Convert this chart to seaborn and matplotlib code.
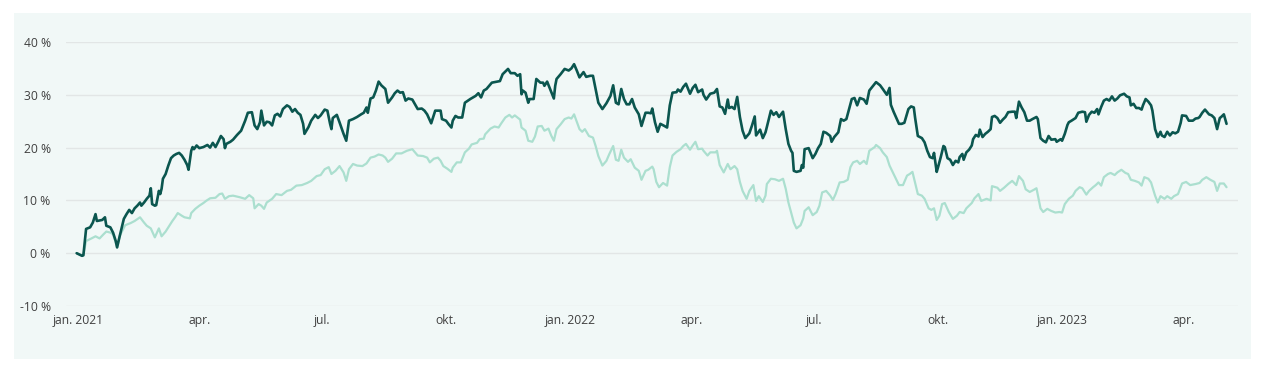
import numpy as np
import pandas as pd
import matplotlib
matplotlib.use("Agg")
import matplotlib.pyplot as plt
import matplotlib.dates as mdates
from matplotlib.ticker import FuncFormatter, FixedLocator
from matplotlib.patches import Rectangle
import seaborn as sns

# ---------------- data (days since 2021-01-01, return in %) ----------------
start_date = "2021-01-01"

dark_days = [-1, 3, 4, 6, 9, 11, 13, 14, 18, 20, 21, 24, 26, 28, 29, 31, 34, 36, 38, 40,
             42, 44, 46, 47, 49, 51, 53, 54, 55, 57, 58, 60, 61, 62, 63, 65, 67, 69, 71, 73,
             75, 77, 79, 81, 82, 84, 85, 86, 88, 90, 93, 96, 98, 100, 102, 104, 106, 108, 109, 110,
             113, 115, 118, 121, 124, 126, 129, 131, 133, 135, 136, 138, 140, 142, 144, 146, 148, 150, 152, 155,
             157, 159, 161, 163, 165, 167, 168, 171, 173, 176, 178, 180, 183, 185, 187, 188, 189, 192, 194, 197,
             199, 201, 204, 207, 210, 212, 214, 215, 217, 219, 221, 223, 225, 228, 230, 233, 235, 237, 239, 241,
             243, 245, 248, 250, 252, 255, 257, 259, 262, 265, 269, 270, 273, 275, 277, 278, 280, 282, 285, 287,
             291, 295, 297, 299, 301, 303, 307, 311, 313, 315, 317, 319, 321, 324, 326, 328, 329, 330, 332, 334,
             335, 338, 340, 343, 345, 346, 348, 350, 353, 354, 355, 358, 361, 364, 366, 368, 370, 372, 375, 377,
             380, 382, 384, 386, 389, 392, 395, 397, 399, 401, 403, 405, 407, 409, 411, 413, 416, 418, 421, 423,
             425, 426, 428, 430, 432, 435, 437, 439, 441, 444, 445, 447, 449, 451, 454, 456, 458, 460, 463, 464,
             466, 469, 472, 474, 476, 478, 480, 482, 483, 485, 487, 489, 491, 493, 495, 498, 500, 502, 503, 506,
             508, 510, 511, 514, 516, 518, 520, 523, 525, 527, 529, 530, 531, 533, 536, 537, 538, 539, 542, 545,
             547, 549, 551, 553, 555, 558, 559, 561, 564, 566, 568, 570, 572, 574, 576, 578, 580, 583, 585, 587,
             591, 592, 595, 597, 600, 602, 603, 605, 609, 611, 613, 616, 618, 620, 621, 623, 626, 628, 630, 632,
             634, 635, 637, 638, 640, 642, 643, 645, 647, 649, 651, 653, 654, 656, 657, 659, 661, 663, 664, 666,
             668, 669, 671, 673, 675, 677, 678, 680, 682, 684, 686, 688, 690, 693, 695, 696, 698, 700, 702, 704,
             706, 708, 711, 712, 714, 716, 718, 720, 722, 725, 726, 729, 730, 732, 734, 735, 737, 740, 742, 745,
             747, 748, 750, 752, 754, 756, 757, 759, 761, 763, 765, 767, 769, 771, 773, 776, 778, 780, 781, 783,
             785, 787, 789, 790, 792, 794, 796, 797, 799, 801, 803, 804, 806, 808, 810, 812, 814, 816, 818, 819,
             822, 824, 827, 829, 831, 832, 834, 836, 839, 841, 843, 845, 847, 848, 850, 852]
dark_vals = [0.0, -0.5, -0.4, 4.6, 4.9, 5.8, 7.4, 6.1, 6.3, 6.8, 5.2, 4.9, 3.9, 2.3, 1.1, 3.3, 6.5, 7.4, 8.2, 7.6,
             8.5, 9.0, 9.6, 9.0, 9.6, 10.3, 10.9, 12.3, 9.3, 9.0, 9.1, 11.8, 11.2, 12.2, 14.1, 15.0, 16.6, 18.0, 18.5, 18.8,
             19.0, 18.5, 17.7, 16.7, 15.8, 19.4, 20.1, 19.7, 20.4, 19.9, 20.1, 20.5, 20.0, 20.9, 20.1, 21.1, 22.2, 21.6, 19.9, 20.7,
             21.1, 21.5, 22.4, 23.2, 25.1, 26.6, 26.7, 24.2, 23.5, 24.8, 27.0, 24.2, 24.9, 24.8, 24.2, 26.1, 26.4, 25.9, 27.3, 28.0,
             27.7, 26.8, 27.3, 26.6, 26.2, 24.5, 22.6, 23.9, 25.1, 26.2, 25.6, 26.1, 27.2, 27.0, 24.5, 23.5, 25.6, 26.2, 24.8, 22.6,
             21.3, 25.1, 25.4, 25.8, 26.3, 26.6, 27.6, 26.6, 29.3, 29.5, 30.8, 32.5, 31.8, 31.1, 28.5, 29.5, 30.3, 30.8, 30.4, 30.5,
             28.9, 29.3, 29.1, 28.2, 27.3, 27.4, 27.0, 26.3, 24.6, 27.0, 27.0, 25.4, 25.1, 24.4, 23.8, 25.1, 26.0, 25.7, 25.7, 28.5,
             29.2, 29.8, 30.3, 29.5, 30.8, 31.1, 32.3, 32.5, 32.6, 33.9, 34.4, 34.9, 34.1, 34.1, 33.6, 33.9, 30.1, 30.8, 30.4, 28.5,
             29.2, 29.2, 33.0, 32.3, 32.3, 31.7, 32.5, 31.2, 29.3, 31.7, 33.0, 33.9, 34.9, 34.6, 35.0, 35.8, 34.6, 33.3, 34.3, 33.4,
             33.6, 33.6, 31.1, 28.5, 27.3, 28.4, 29.8, 31.8, 28.5, 28.2, 31.1, 29.2, 28.2, 28.2, 29.2, 27.6, 26.3, 24.1, 26.6, 26.6,
             26.5, 27.4, 24.8, 23.0, 24.5, 24.1, 23.8, 28.0, 30.4, 30.5, 31.0, 30.6, 31.5, 32.1, 30.2, 31.3, 31.9, 30.5, 31.0, 30.0,
             29.1, 30.2, 30.4, 31.1, 27.8, 27.6, 26.4, 29.1, 27.5, 27.7, 27.3, 29.6, 25.8, 23.2, 21.8, 22.7, 24.2, 25.9, 22.3, 23.4,
             21.8, 22.9, 23.9, 27.0, 26.2, 26.7, 25.8, 26.8, 23.5, 20.7, 19.4, 19.0, 15.6, 15.4, 15.6, 16.7, 16.2, 19.7, 19.9, 18.0,
             18.8, 19.9, 20.7, 23.0, 22.8, 22.2, 21.1, 22.0, 22.9, 25.4, 25.1, 25.4, 27.3, 29.2, 29.4, 28.0, 29.4, 29.1, 28.3, 30.8,
             32.1, 32.4, 31.8, 31.1, 30.0, 31.3, 28.1, 26.8, 24.5, 24.5, 24.7, 27.3, 27.8, 27.6, 25.6, 22.2, 21.8, 21.0, 19.4, 18.2,
             18.0, 19.0, 15.4, 16.3, 18.2, 20.3, 20.1, 18.0, 17.7, 16.7, 17.5, 17.2, 18.2, 18.8, 17.7, 19.1, 19.6, 20.4, 21.6, 22.4,
             22.1, 23.4, 22.0, 22.6, 23.0, 23.5, 25.8, 26.0, 25.6, 24.7, 25.3, 25.8, 26.7, 26.8, 26.8, 25.6, 28.7, 27.6, 26.7, 25.1,
             25.1, 25.4, 25.8, 25.4, 21.8, 21.3, 21.0, 22.2, 21.5, 21.6, 21.1, 21.6, 21.3, 22.6, 24.3, 24.8, 25.1, 25.6, 26.6, 26.8,
             26.7, 24.9, 26.2, 26.8, 26.6, 27.3, 26.3, 27.7, 28.9, 29.2, 28.9, 29.7, 28.9, 29.3, 29.9, 30.2, 29.7, 29.5, 28.0, 28.3,
             27.5, 27.5, 27.2, 28.0, 29.2, 28.7, 28.0, 27.0, 23.5, 22.0, 23.0, 22.3, 22.0, 23.0, 22.3, 22.9, 22.7, 23.0, 24.7, 26.1,
             26.0, 25.1, 25.1, 25.5, 25.6, 25.8, 26.6, 27.2, 26.3, 26.1, 25.6, 23.5, 25.6, 25.8, 26.3, 24.5]

light_days = [-1, 3, 4, 6, 10, 13, 16, 19, 21, 24, 26, 28, 29, 31, 35, 39, 42, 46, 49, 51,
              54, 57, 60, 62, 65, 67, 70, 72, 74, 77, 79, 83, 84, 87, 90, 93, 95, 98, 102, 105,
              107, 109, 112, 115, 120, 124, 127, 130, 131, 134, 136, 138, 140, 144, 147, 151, 155, 158, 162, 166,
              170, 173, 177, 180, 183, 186, 188, 191, 194, 197, 199, 201, 204, 207, 211, 214, 217, 220, 223, 226,
              228, 230, 233, 236, 240, 244, 248, 250, 252, 256, 259, 261, 264, 267, 269, 271, 274, 277, 278, 281,
              284, 287, 290, 292, 296, 298, 301, 302, 306, 309, 312, 314, 317, 320, 322, 324, 326, 328, 329, 332,
              334, 337, 339, 341, 344, 346, 349, 351, 353, 355, 358, 361, 364, 366, 368, 370, 372, 374, 376, 379,
              382, 384, 386, 389, 392, 394, 397, 399, 401, 403, 405, 408, 410, 413, 416, 418, 421, 423, 426, 427,
              429, 431, 434, 437, 439, 441, 444, 447, 449, 451, 454, 456, 458, 460, 463, 464, 467, 469, 473, 474,
              476, 479, 482, 484, 487, 489, 491, 493, 496, 498, 501, 503, 505, 508, 510, 511, 514, 517, 520, 523,
              525, 527, 529, 531, 533, 536, 538, 539, 542, 545, 548, 550, 552, 555, 558, 560, 562, 565, 568, 571,
              573, 575, 578, 580, 583, 585, 587, 591, 592, 595, 597, 600, 602, 605, 609, 612, 615, 617, 619, 621,
              623, 626, 628, 631, 633, 635, 637, 639, 641, 643, 646, 649, 652, 654, 657, 659, 663, 665, 668, 670,
              674, 677, 678, 682, 684, 687, 690, 693, 696, 698, 701, 703, 706, 709, 711, 714, 716, 719, 722, 725,
              728, 730, 732, 735, 738, 740, 743, 745, 748, 750, 753, 755, 757, 759, 761, 764, 766, 769, 771, 774,
              777, 779, 781, 784, 787, 789, 791, 794, 796, 799, 801, 803, 806, 808, 811, 813, 816, 819, 822, 825,
              829, 832, 834, 837, 840, 843, 845, 847, 850, 852]
light_vals = [0.0, -0.4, -0.2, 2.3, 2.8, 3.2, 2.8, 3.6, 4.1, 3.9, 3.6, 2.0, 1.1, 3.3, 5.3, 5.7, 6.1, 6.8, 5.8, 5.2,
              4.7, 3.0, 4.7, 3.2, 4.1, 4.9, 6.1, 6.8, 7.6, 7.1, 6.8, 6.6, 7.6, 8.4, 9.0, 9.5, 9.9, 10.4, 10.5, 11.2,
              11.3, 10.3, 10.8, 10.9, 10.6, 10.3, 11.0, 10.4, 8.5, 9.3, 9.0, 8.4, 9.6, 10.3, 11.2, 11.0, 11.8, 12.0, 12.8, 12.9,
              13.3, 13.7, 14.6, 14.8, 15.9, 16.3, 15.0, 15.6, 16.5, 15.3, 13.7, 15.9, 16.9, 16.6, 16.5, 17.0, 18.1, 18.3, 18.7, 18.5,
              18.1, 17.3, 17.9, 18.9, 18.9, 19.4, 19.7, 19.1, 18.5, 18.4, 18.1, 17.2, 17.9, 18.1, 17.5, 16.5, 16.0, 15.4, 16.2, 17.2,
              17.2, 19.1, 19.8, 20.6, 20.9, 21.6, 21.7, 22.5, 23.6, 24.0, 23.8, 24.6, 25.7, 26.2, 25.7, 26.1, 25.7, 25.3, 23.8, 23.2,
              21.3, 21.1, 22.1, 24.0, 24.1, 23.2, 23.6, 22.3, 21.3, 23.5, 24.4, 25.4, 25.7, 25.5, 26.3, 24.9, 23.5, 23.0, 23.5, 22.2,
              21.9, 20.3, 18.4, 16.6, 17.5, 18.7, 20.3, 17.7, 17.5, 19.6, 18.1, 17.3, 17.8, 16.2, 15.6, 13.9, 15.6, 15.8, 16.4, 15.9,
              13.5, 12.5, 13.3, 12.8, 16.3, 18.5, 19.2, 19.7, 20.3, 20.7, 19.6, 20.4, 21.1, 19.7, 19.8, 19.4, 18.5, 19.1, 19.1, 19.4,
              16.7, 15.3, 16.9, 15.9, 16.5, 15.9, 13.5, 11.8, 10.3, 11.8, 12.9, 9.9, 10.8, 9.7, 10.9, 13.1, 14.1, 14.0, 13.7, 14.1,
              12.2, 9.6, 7.7, 5.8, 4.7, 5.3, 6.6, 8.0, 8.7, 7.2, 7.8, 9.0, 11.5, 11.8, 10.9, 10.1, 11.2, 13.4, 13.5, 13.9,
              16.3, 17.2, 17.5, 16.9, 17.5, 16.9, 19.4, 20.1, 20.5, 19.9, 19.1, 18.2, 16.6, 15.0, 12.9, 12.9, 14.7, 15.0, 15.4, 13.3,
              11.2, 10.9, 10.3, 8.5, 8.2, 8.5, 6.3, 7.1, 9.3, 9.5, 7.8, 6.5, 7.1, 7.8, 7.6, 8.5, 9.5, 10.4, 11.2, 9.9,
              10.3, 10.0, 12.7, 12.4, 11.8, 12.4, 13.1, 13.7, 12.9, 14.6, 13.7, 12.1, 11.6, 12.0, 12.3, 8.5, 7.8, 8.4, 8.0, 7.7,
              7.8, 7.7, 9.3, 10.3, 10.9, 11.8, 12.5, 12.3, 11.1, 11.8, 12.5, 12.9, 13.4, 12.8, 14.4, 15.0, 15.2, 14.8, 15.3, 15.8,
              15.2, 15.0, 13.9, 13.7, 13.4, 12.8, 14.4, 14.1, 13.4, 10.9, 9.6, 10.8, 10.3, 10.8, 10.3, 10.8, 11.2, 13.2, 13.5, 12.9,
              13.1, 13.3, 13.9, 14.4, 13.9, 13.5, 11.8, 13.2, 13.2, 12.5]

y_ticks = [-10, 0, 10, 20, 30, 40]
x_tick_dates = ["2021-01-01", "2021-04-01", "2021-07-01", "2021-10-01", "2022-01-01",
                "2022-04-01", "2022-07-01", "2022-10-01", "2023-01-01", "2023-04-01"]
x_tick_labels = ["jan. 2021", "apr.", "jul.", "okt.", "jan. 2022",
                 "apr.", "jul.", "okt.", "jan. 2023", "apr."]

# ---------------- build frame ----------------
t0 = pd.Timestamp(start_date)
dark_df = pd.DataFrame({"date": t0 + pd.to_timedelta(dark_days, unit="D"), "value": dark_vals})
light_df = pd.DataFrame({"date": t0 + pd.to_timedelta(light_days, unit="D"), "value": light_vals})

sns.set_theme(style="white")
plt.rcParams["font.family"] = ["Open Sans", "DejaVu Sans"]

W, H = 1263, 370
fig = plt.figure(figsize=(W / 100, H / 100), dpi=100)
fig.patch.set_facecolor("white")
panel = Rectangle((14 / W, 1 - 359 / H), (1251 - 14) / W, (359 - 13) / H,
                  transform=fig.transFigure, facecolor="#f1f8f7",
                  edgecolor="none", zorder=-10)
fig.add_artist(panel)

ax = fig.add_axes([66 / W, 1 - 306 / H, (1238 - 66) / W, (306 - 42) / H], zorder=1)
ax.set_facecolor("none")

sns.lineplot(data=light_df, x="date", y="value", estimator=None,
             color="#abdfcf", linewidth=1.6, ax=ax, zorder=3)
sns.lineplot(data=dark_df, x="date", y="value", estimator=None,
             color="#0b564f", linewidth=1.9, ax=ax, zorder=4)

ax.set_ylim(-10, 40)
ax.set_xlim(t0 + pd.Timedelta(days=-8.9), t0 + pd.Timedelta(days=860.5))
ax.yaxis.set_major_locator(FixedLocator(y_ticks))
ax.yaxis.set_major_formatter(FuncFormatter(lambda v, p: f"{int(v)} %"))
xt = [mdates.date2num(pd.Timestamp(d)) for d in x_tick_dates]
ax.set_xticks(xt)
ax.set_xticklabels(x_tick_labels)
ax.grid(axis="y", color="#e2e6e6", linewidth=1.0)
ax.grid(axis="x", visible=False)
ax.set_axisbelow(True)
for s in ax.spines.values():
    s.set_visible(False)
ax.tick_params(axis="both", length=0, labelsize=8.7, colors="#404040")
ax.tick_params(axis="y", pad=11)
ax.tick_params(axis="x", pad=6)
ax.set_xlabel("")
ax.set_ylabel("")

fig.savefig("out.png", dpi=100, facecolor="white")
